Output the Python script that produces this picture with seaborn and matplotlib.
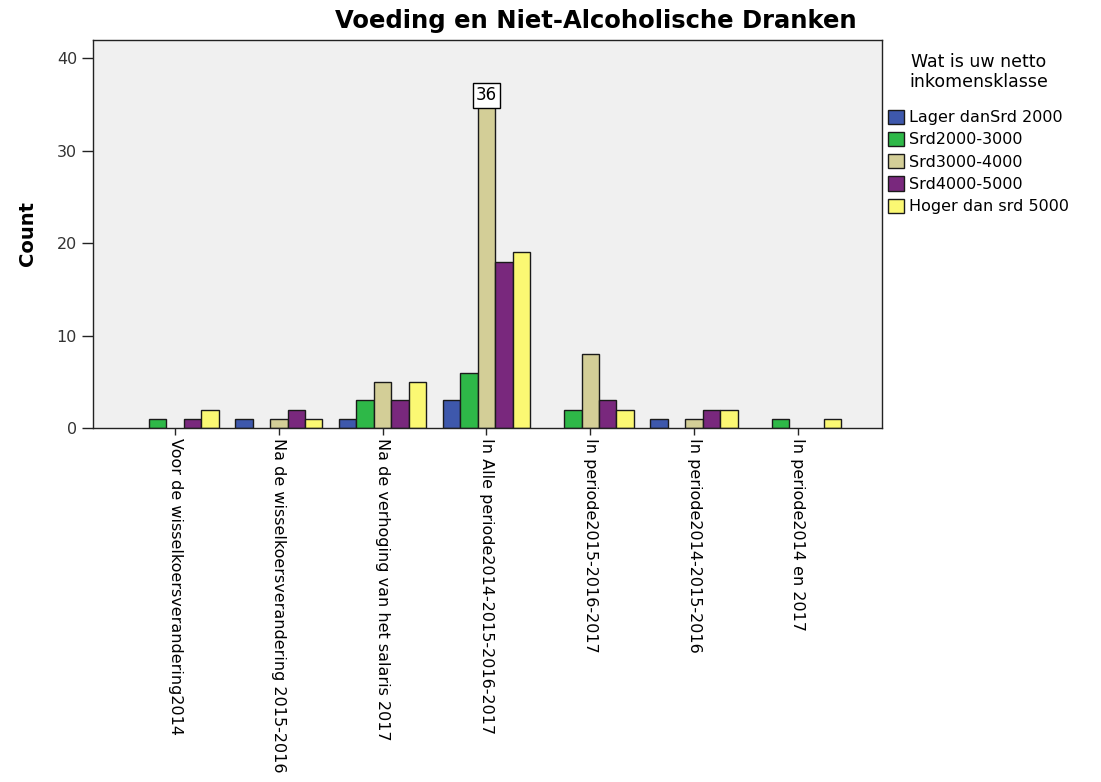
import numpy as np
import pandas as pd
import matplotlib
matplotlib.use("Agg")
import matplotlib.pyplot as plt
import seaborn as sns

# categories on the x axis
periodes = [
    "Voor de wisselkoersverandering2014",
    "Na de wisselkoersverandering 2015-2016",
    "Na de verhoging van het salaris 2017",
    "In Alle periode2014-2015-2016-2017",
    "In periode2015-2016-2017",
    "In periode2014-2015-2016",
    "In periode2014 en 2017",
]
# income classes (hue)
klassen = ["Lager danSrd 2000", "Srd2000-3000", "Srd3000-4000",
           "Srd4000-5000", "Hoger dan srd 5000"]

lager = [0, 1, 1, 3, 0, 1, 0]
srd2000 = [1, 0, 3, 6, 2, 0, 1]
srd3000 = [0, 1, 5, 36, 8, 1, 0]
srd4000 = [1, 2, 3, 18, 3, 2, 0]
hoger = [2, 1, 5, 19, 2, 2, 1]

kleuren = ["#3e58ac", "#2eb848", "#d3ce97", "#79287d", "#fbf873"]

rows = []
for k, vals in zip(klassen, [lager, srd2000, srd3000, srd4000, hoger]):
    for p, v in zip(periodes, vals):
        rows.append({"periode": p, "klasse": k, "count": v})
df = pd.DataFrame(rows)

sns.set_style("white")
plt.rcParams['font.family'] = ['DejaVu Sans']
plt.rcParams['text.color'] = 'black'

fig = plt.figure(figsize=(11.01, 7.82), dpi=100)
ax = fig.add_axes([0.0845, 0.4527, 0.7165, 0.4963])
ax.set_facecolor("#f0f0f0")

sns.barplot(data=df, x="periode", y="count", hue="klasse", order=periodes,
            hue_order=klassen, palette=kleuren, width=0.84,
            edgecolor="#1a1a1a", linewidth=1, saturation=1, ax=ax)

# SPSS does not draw empty bars
for b in ax.patches:
    if b.get_height() == 0:
        b.set_linewidth(0)

ax.set_xlim(-0.79, 6.81)
ax.set_ylim(0, 42)
ax.set_yticks([0, 10, 20, 30, 40])
ax.set_xlabel("")
ax.set_ylabel("Count", fontsize=14, fontweight="bold", labelpad=14,
              color="black")
ax.set_xticks(range(len(periodes)))
ax.set_xticklabels(periodes, rotation=-90, ha="center", va="top",
                   fontsize=11.5)
ax.tick_params(axis="y", left=True, length=8, width=1, labelsize=11.5,
               colors="#222222", labelcolor="#333333")
ax.tick_params(axis="x", bottom=True, length=5, width=1, pad=2,
               labelcolor="black")
for s in ax.spines.values():
    s.set_color("#222222")
    s.set_linewidth(1)

# label for the highest bar
hoogste = max(srd3000)
pos = srd3000.index(hoogste)
ax.text(pos, hoogste, str(hoogste), ha="center", va="center", fontsize=12,
        bbox=dict(boxstyle="square,pad=0.2", facecolor="white",
                  edgecolor="black", linewidth=1), zorder=5)

leg = ax.legend(title="Wat is uw netto\ninkomensklasse",
                loc="upper left", bbox_to_anchor=(0.996, 0.99),
                frameon=False, fontsize=11.5, title_fontsize=12.5,
                handlelength=1.0, handleheight=1.0, handletextpad=0.3,
                labelspacing=0.42, borderaxespad=0.2)
leg.get_title().set_multialignment("center")
leg.get_title().set_linespacing(1.15)
leg._legend_box.align = "center"
leg._legend_box.sep = 13
for h in leg.legend_handles:
    h.set_edgecolor("#1a1a1a")
    h.set_linewidth(1)

fig.text(0.541, 0.973, "Voeding en Niet-Alcoholische Dranken", ha="center",
         va="center", fontsize=17.5, fontweight="bold")

fig.savefig("out.png", dpi=100)
